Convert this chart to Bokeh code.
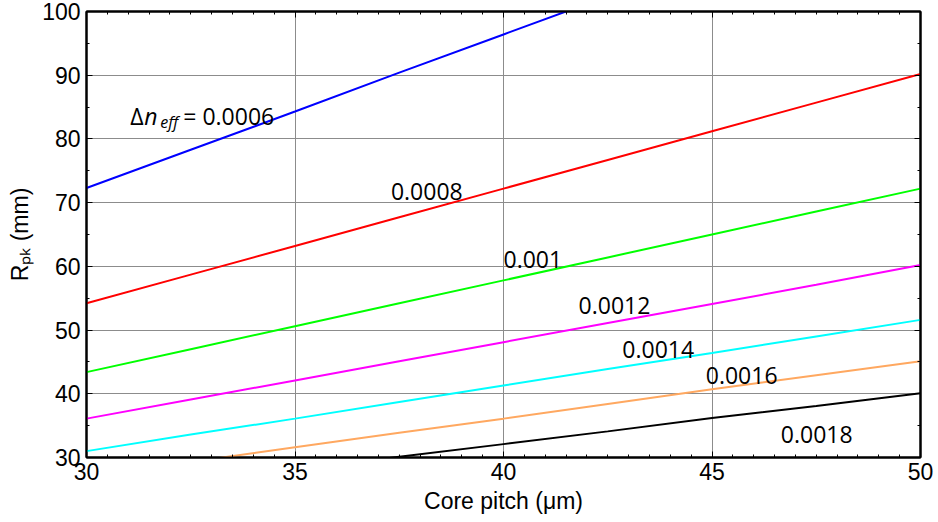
import numpy as np
from bokeh.plotting import figure
from bokeh.models import Range1d, LinearAxis, Label, FixedTicker, ColumnDataSource
from bokeh.embed import file_html
from bokeh.resources import INLINE

# ---- data ----
pitch = [30, 32.5, 35, 37.5, 40, 42.5, 45, 47.5, 50]
dn_labels = ["0.0006", "0.0008", "0.001", "0.0012", "0.0014", "0.0016", "0.0018"]
r_0006 = [72.3, 78.3, 84.3, 90.4, 96.4, 102.4, 108.4, 114.4, 120.5]
r_0008 = [54.2, 58.7, 63.2, 67.7, 72.2, 76.7, 81.2, 85.7, 90.2]
r_0010 = [43.4, 47.0, 50.6, 54.2, 57.8, 61.4, 65.0, 68.6, 72.2]
r_0012 = [36.1, 39.1, 42.1, 45.1, 48.1, 51.1, 54.1, 57.1, 60.2]
r_0014 = [31.0, 33.6, 36.1, 38.7, 41.3, 43.9, 46.4, 49.0, 51.6]
r_0016 = [27.1, 29.3, 31.6, 33.9, 36.1, 38.4, 40.7, 42.9, 45.1]
r_0018 = [24.1, 26.1, 28.1, 30.1, 32.1, 34.1, 36.2, 38.1, 40.1]
x_ticks = [30, 35, 40, 45, 50]
y_ticks = [30, 40, 50, 60, 70, 80, 90, 100]

series = [r_0006, r_0008, r_0010, r_0012, r_0014, r_0016, r_0018]
colors = ["#0000ff", "#ff0000", "#00ff00", "#ff00ff", "#00ffff", "#ffa860", "#000000"]

TICK_FONT = "Liberation Sans"
LBL_FONT = "Open Sans"

p = figure(width=938, height=522, x_range=Range1d(30, 50), y_range=Range1d(30, 100),
           output_backend="svg", toolbar_location=None,
           min_border_left=86, min_border_right=18, min_border_top=11, min_border_bottom=65)
p.background_fill_color = "white"
p.border_fill_color = "white"
p.outline_line_color = "black"
p.outline_line_width = 2

for ys, c in zip(series, colors):
    src = ColumnDataSource(dict(x=pitch, y=ys))
    p.line("x", "y", source=src, line_color=c, line_width=2)

xt = FixedTicker(ticks=x_ticks, minor_ticks=list(np.arange(30, 50.01, 0.5)))
yt = FixedTicker(ticks=y_ticks, minor_ticks=list(np.arange(30, 100.01, 5)))


def style_axis(ax, show_labels=True):
    ax.axis_line_color = "black"
    ax.axis_line_width = 2
    ax.major_tick_in = 6
    ax.major_tick_out = 0
    ax.minor_tick_in = 3
    ax.minor_tick_out = 0
    ax.major_tick_line_color = "black"
    ax.minor_tick_line_color = "black"
    ax.major_tick_line_width = 1
    ax.minor_tick_line_width = 1
    if show_labels:
        ax.major_label_text_font = TICK_FONT
        ax.major_label_text_font_size = "23px"
        ax.major_label_text_color = "black"
    else:
        ax.major_label_text_font_size = "1px"
        ax.major_label_text_color = None
        ax.major_label_standoff = 0


p.xaxis.ticker = xt
p.yaxis.ticker = yt
style_axis(p.xaxis[0])
style_axis(p.yaxis[0])
p.xaxis.major_label_standoff = 5
p.yaxis.major_label_standoff = 6
p.xaxis.axis_label = "Core pitch (\u03bcm)"
p.yaxis.axis_label = "R\u209a\u2096 (mm)"
for ax in (p.xaxis[0], p.yaxis[0]):
    ax.axis_label_text_font = TICK_FONT
    ax.axis_label_text_font_size = "23px"
    ax.axis_label_text_font_style = "normal"
    ax.axis_label_text_color = "black"
p.xaxis.axis_label_standoff = 5
p.yaxis.axis_label_standoff = 6

top = LinearAxis(ticker=xt)
style_axis(top, show_labels=False)
p.add_layout(top, "above")
right = LinearAxis(ticker=yt)
style_axis(right, show_labels=False)
p.add_layout(right, "right")

p.xgrid.ticker = xt
p.ygrid.ticker = yt
for g in (p.xgrid[0], p.ygrid[0]):
    g.grid_line_color = "#8c8c8c"
    g.grid_line_width = 1

# ---- curve annotations ----
ax0, ay0 = 31.05, 83.6
p.add_layout(Label(x=ax0, y=ay0, text="\u0394", text_font=LBL_FONT, text_font_size="23px",
                   text_baseline="alphabetic", text_color="black"))
p.add_layout(Label(x=ax0, y=ay0, x_offset=14, text="n", text_font=LBL_FONT, text_font_size="23px",
                   text_font_style="italic", text_baseline="alphabetic", text_color="black"))
p.add_layout(Label(x=ax0, y=ay0 - 0.95, x_offset=30, text="eff", text_font=LBL_FONT,
                   text_font_size="16px", text_font_style="italic",
                   text_baseline="alphabetic", text_color="black"))
p.add_layout(Label(x=ax0, y=ay0, x_offset=53, text="= " + dn_labels[0], text_font=LBL_FONT,
                   text_font_size="23px", text_baseline="alphabetic", text_color="black"))

label_pos = [(37.3, 71.7), (40.0, 61.1), (41.8, 53.9), (42.85, 47.0), (44.85, 42.8), (46.65, 33.6)]
for txt, (lx, ly) in zip(dn_labels[1:], label_pos):
    p.add_layout(Label(x=lx, y=ly, text=txt, text_font=LBL_FONT, text_font_size="23px",
                       text_baseline="alphabetic", text_color="black"))

open("out.html", "w").write(file_html(p, INLINE))
